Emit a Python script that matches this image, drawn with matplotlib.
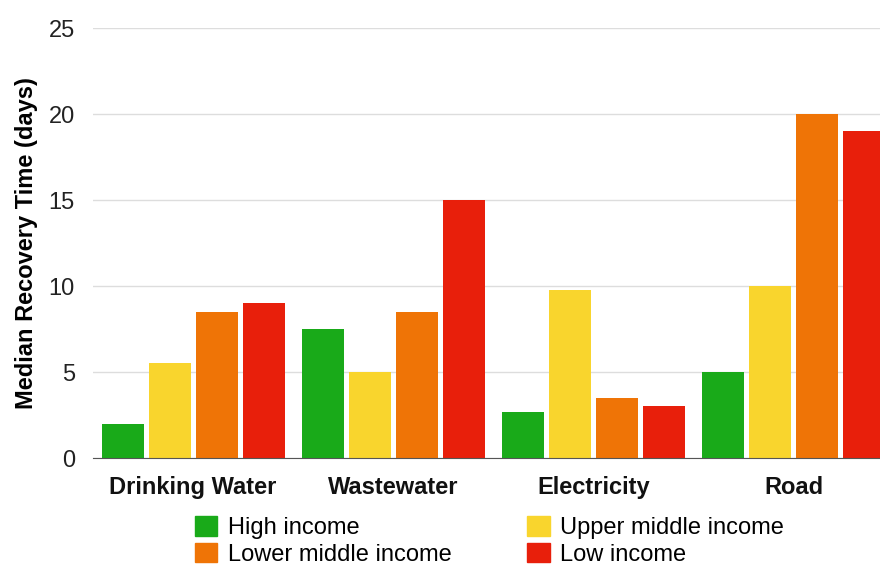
import matplotlib.pyplot as plt
from matplotlib.patches import Patch
import numpy as np

plt.rcParams['font.family'] = ['Liberation Sans', 'DejaVu Sans']

categories = ['Drinking Water', 'Wastewater', 'Electricity', 'Road']
series = ['High income', 'Upper middle income', 'Lower middle income', 'Low income']
high = [2, 7.5, 2.7, 5]
upper_mid = [5.5, 5, 9.75, 10]
lower_mid = [8.5, 8.5, 3.5, 20]
low = [9, 15, 3, 19]
colors = ['#19aa19', '#f9d52d', '#ef7406', '#e81f0b']
yticks = [0, 5, 10, 15, 20, 25]

fig = plt.figure(figsize=(8.8, 5.66), dpi=100)
ax = fig.add_axes([0.1057, 0.1908, 0.8943, 0.7597])

x = np.arange(len(categories))
w = 0.21
step = 0.235
for i, vals in enumerate([high, upper_mid, lower_mid, low]):
    ax.bar(x + (i - 1.5) * step, vals, w, color=colors[i], zorder=3)

ax.set_xlim(-0.5, 3.43)
ax.set_ylim(0, 25)
ax.set_yticks(yticks)
ax.set_yticklabels([str(t) for t in yticks], fontsize=17)
ax.set_xticks(x)
ax.set_xticklabels(categories, fontsize=17, fontweight='bold')
ax.tick_params(axis='y', length=0, pad=13, colors='#222222')
ax.tick_params(axis='x', length=0, pad=13, colors='#111111')
ax.grid(axis='y', color='#dddddd', linewidth=1, zorder=0)
for s in ['top', 'right', 'left']:
    ax.spines[s].set_visible(False)
ax.spines['bottom'].set_color('#555555')
ax.spines['bottom'].set_zorder(4)
ax.set_ylabel('Median Recovery Time (days)', fontsize=17, fontweight='bold', labelpad=8)

# legend fills column-wise, so reorder to get the reference's row layout
order = [0, 2, 1, 3]
handles = [Patch(color=colors[i]) for i in order]
labels = [series[i] for i in order]
fig.legend(handles, labels, ncol=2, loc='upper left', bbox_to_anchor=(0.2216, 0.088),
           frameon=False, fontsize=17, handlelength=0.95, handleheight=0.9,
           handletextpad=0.45, labelspacing=0.15, columnspacing=3.2, borderpad=0,
           borderaxespad=0)

fig.savefig('out.png', dpi=100)
